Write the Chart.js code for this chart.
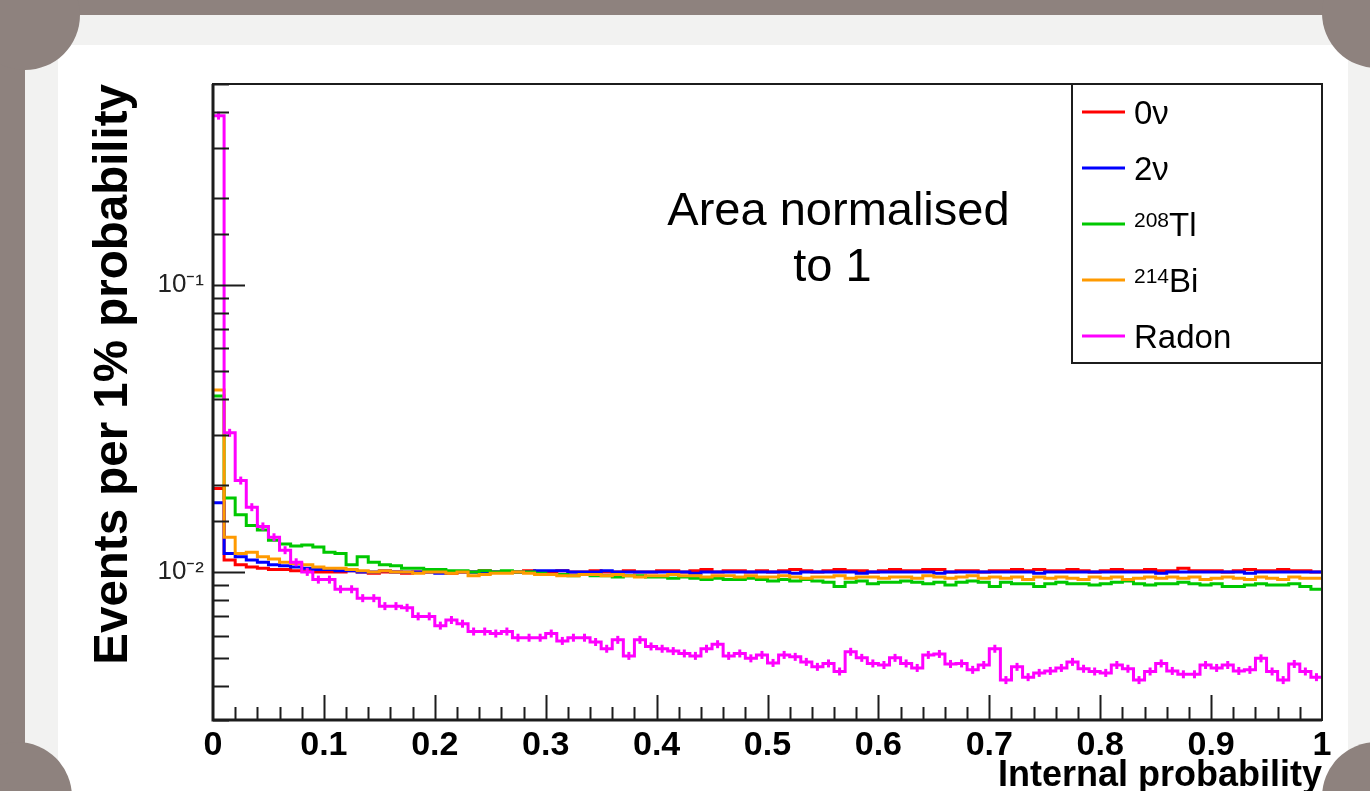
<!DOCTYPE html>
<html>
<head>
<meta charset="utf-8">
<script src="https://cdn.jsdelivr.net/npm/chart.js@4.4.1/dist/chart.umd.min.js"></script>
<style>
  html, body { margin: 0; padding: 0; overflow: hidden; background: #8e827e; }
  #card { position: absolute; left: 25px; top: 15px; width: 1360px; height: 800px; background: #f2f2f1; }
  #sheet { position: absolute; left: 58px; top: 45px; width: 1290px; height: 760px; background: #ffffff; }
  .corner { position: absolute; width: 110px; height: 110px; border-radius: 50%; background: #8e827e; }
  #histo { position: absolute; left: 0; top: 0; }
</style>
</head>
<body>
<div id="card"></div>
<div id="sheet"></div>
<div class="corner" style="left:-30px;top:-40px"></div>
<div class="corner" style="left:1322px;top:-42px"></div>
<div class="corner" style="left:-38px;top:742px"></div>
<div class="corner" style="left:1322px;top:742px"></div>
<canvas id="histo" width="1370" height="791"></canvas>
<script>
// bin lower edges, 100 bins of 1% internal probability
var binLow = [];
for (var i = 0; i < 100; i++) binLow.push(i / 100);

var seriesNames = ['0ν', '2ν', 'Tl', 'Bi', 'Radon'];
var seriesMass = ['', '', '208', '214', ''];
var seriesColors = ['#ff0000', '#0000ff', '#00c800', '#ff9a00', '#ff00ff'];

var zeroNu = [
  0.0195, 0.0110, 0.0106, 0.0104, 0.0103, 0.0102, 0.0102, 0.0101, 0.0101, 0.0100,
  0.0100, 0.0100, 0.0101, 0.0100, 0.0099, 0.0100, 0.0100, 0.0099, 0.0100, 0.0100,
  0.0100, 0.0099, 0.0100, 0.0100, 0.0101, 0.0100, 0.0100, 0.0100, 0.0101, 0.0100,
  0.0100, 0.0101, 0.0100, 0.0100, 0.0101, 0.0100, 0.0100, 0.0101, 0.0100, 0.0100,
  0.0101, 0.0101, 0.0100, 0.0101, 0.0102, 0.0100, 0.0101, 0.0101, 0.0100, 0.0101,
  0.0100, 0.0101, 0.0102, 0.0101, 0.0100, 0.0101, 0.0102, 0.0101, 0.0101, 0.0100,
  0.0101, 0.0102, 0.0101, 0.0101, 0.0102, 0.0102, 0.0100, 0.0101, 0.0101, 0.0100,
  0.0101, 0.0101, 0.0102, 0.0101, 0.0102, 0.0101, 0.0101, 0.0102, 0.0101, 0.0100,
  0.0101, 0.0102, 0.0101, 0.0101, 0.0102, 0.0101, 0.0101, 0.0103, 0.0101, 0.0101,
  0.0101, 0.0100, 0.0101, 0.0102, 0.0101, 0.0101, 0.0102, 0.0101, 0.0101, 0.0100
];
var twoNu = [
  0.0174, 0.0116, 0.0113, 0.0110, 0.0108, 0.0106, 0.0105, 0.0104, 0.0103, 0.0102,
  0.0102, 0.0101, 0.0101, 0.0100, 0.0100, 0.0101, 0.0100, 0.0100, 0.0100, 0.0100,
  0.0099, 0.0100, 0.0100, 0.0100, 0.0099, 0.0100, 0.0100, 0.0100, 0.0100, 0.0101,
  0.0101, 0.0101, 0.0100, 0.0100, 0.0100, 0.0101, 0.0100, 0.0100, 0.0100, 0.0100,
  0.0100, 0.0100, 0.0100, 0.0099, 0.0100, 0.0100, 0.0100, 0.0100, 0.0100, 0.0100,
  0.0100, 0.0100, 0.0099, 0.0100, 0.0100, 0.0100, 0.0100, 0.0100, 0.0099, 0.0100,
  0.0100, 0.0100, 0.0100, 0.0100, 0.0100, 0.0099, 0.0100, 0.0100, 0.0100, 0.0100,
  0.0100, 0.0100, 0.0100, 0.0100, 0.0099, 0.0100, 0.0100, 0.0100, 0.0100, 0.0100,
  0.0100, 0.0100, 0.0100, 0.0100, 0.0100, 0.0099, 0.0100, 0.0100, 0.0100, 0.0100,
  0.0100, 0.0100, 0.0100, 0.0099, 0.0100, 0.0100, 0.0100, 0.0100, 0.0100, 0.0100
];
var tl208 = [
  0.0410, 0.0181, 0.0158, 0.0145, 0.0140, 0.0129, 0.0125, 0.0123, 0.0124, 0.0122,
  0.0117, 0.0116, 0.0106, 0.0113, 0.0108, 0.0106, 0.0105, 0.0103, 0.0103, 0.0102,
  0.0102, 0.0101, 0.0101, 0.0100, 0.0101, 0.0100, 0.0101, 0.0100, 0.0100, 0.0099,
  0.0098, 0.0098, 0.0097, 0.0098, 0.0097, 0.0097, 0.0096, 0.0097, 0.0097, 0.0096,
  0.0096, 0.0095, 0.0096, 0.0095, 0.0094, 0.0095, 0.0094, 0.0094, 0.0095, 0.0094,
  0.0093, 0.0094, 0.0093, 0.0094, 0.0093, 0.0092, 0.0089, 0.0092, 0.0093, 0.0091,
  0.0092, 0.0092, 0.0093, 0.0092, 0.0091, 0.0092, 0.0090, 0.0092, 0.0093, 0.0092,
  0.0089, 0.0092, 0.0091, 0.0091, 0.0089, 0.0091, 0.0092, 0.0091, 0.0091, 0.0090,
  0.0091, 0.0092, 0.0093, 0.0091, 0.0090, 0.0091, 0.0091, 0.0092, 0.0091, 0.0090,
  0.0091, 0.0089, 0.0089, 0.0090, 0.0091, 0.0090, 0.0090, 0.0091, 0.0089, 0.0087
];
var bi214 = [
  0.0430, 0.0132, 0.0116, 0.0117, 0.0113, 0.0111, 0.0108, 0.0107, 0.0106, 0.0104,
  0.0103, 0.0103, 0.0102, 0.0101, 0.0100, 0.0101, 0.0100, 0.0100, 0.0099, 0.0100,
  0.0100, 0.0099, 0.0100, 0.0097, 0.0098, 0.0099, 0.0099, 0.0100, 0.0099, 0.0098,
  0.0098, 0.0097, 0.0097, 0.0098, 0.0098, 0.0097, 0.0098, 0.0097, 0.0096, 0.0097,
  0.0097, 0.0098, 0.0097, 0.0097, 0.0096, 0.0097, 0.0097, 0.0096, 0.0097, 0.0096,
  0.0096, 0.0097, 0.0096, 0.0095, 0.0096, 0.0096, 0.0097, 0.0095, 0.0096, 0.0096,
  0.0095, 0.0096, 0.0096, 0.0095, 0.0097, 0.0096, 0.0095, 0.0096, 0.0097, 0.0095,
  0.0096, 0.0095, 0.0096, 0.0094, 0.0096, 0.0095, 0.0096, 0.0095, 0.0094, 0.0096,
  0.0095, 0.0096, 0.0094, 0.0095, 0.0096, 0.0095, 0.0096, 0.0095, 0.0096, 0.0094,
  0.0095, 0.0096, 0.0095, 0.0094, 0.0096, 0.0095, 0.0094, 0.0096, 0.0095, 0.0095
];
var radon = [
  0.388, 0.0305, 0.0208, 0.0168, 0.0144, 0.0132, 0.0119, 0.0108, 0.0100, 0.0094,
  0.0094, 0.0087, 0.0087, 0.0081, 0.0081, 0.0076, 0.0076, 0.0075, 0.0070, 0.0070,
  0.0065, 0.0068, 0.0066, 0.0062, 0.0062, 0.0061, 0.0062, 0.0059, 0.0059, 0.0059,
  0.0061, 0.00575, 0.0059, 0.0059, 0.0057, 0.0054, 0.0058, 0.0051, 0.0058, 0.0055,
  0.0054, 0.0053, 0.0052, 0.0051, 0.0054, 0.0056, 0.0051, 0.0052, 0.0050, 0.00514,
  0.00482, 0.00514, 0.00506, 0.00486, 0.00467, 0.0048, 0.0045, 0.00527, 0.00502, 0.0048,
  0.00474, 0.00502, 0.0048, 0.00463, 0.00514, 0.00518, 0.00478, 0.0048, 0.00456, 0.00474,
  0.0054, 0.0042, 0.00467, 0.0043, 0.00445, 0.00452, 0.00463, 0.00486, 0.0046, 0.0045,
  0.00445, 0.00474, 0.0046, 0.0042, 0.0045, 0.0048, 0.00452, 0.0044, 0.0044, 0.00474,
  0.00463, 0.00474, 0.00452, 0.00456, 0.0050, 0.0045, 0.0042, 0.00478, 0.0045, 0.0043
];
var yTickLabels = { '0.1': '10\u207B\u00B9', '0.01': '10\u207B\u00B2' };

function histPoints(values) {
  var pts = values.map(function (v, i) { return { x: binLow[i], y: v }; });
  pts.push({ x: 1, y: values[values.length - 1] });
  return pts;
}

var allSeries = [zeroNu, twoNu, tl208, bi214, radon];
var datasets = allSeries.map(function (vals, i) {
  return {
    label: seriesNames[i],
    data: histPoints(vals),
    borderColor: seriesColors[i],
    borderWidth: 3,
    stepped: 'before',
    pointRadius: 0,
    fill: false,
    order: 10 - i
  };
});
// radon error bars at bin centres
datasets.push({
  label: 'Radon errors',
  type: 'scatter',
  data: radon.map(function (v, i) { return { x: binLow[i] + 0.005, y: v }; }),
  showLine: false,
  pointStyle: 'line',
  rotation: 90,
  pointRadius: 4,
  borderWidth: 3,
  borderColor: '#ff00ff',
  order: 0
});

var font = 'Liberation Sans, Arial, Helvetica, sans-serif';

var rootDecor = {
  id: 'rootDecor',
  afterDraw: function (chart) {
    var ctx = chart.ctx, a = chart.chartArea, x = chart.scales.x, y = chart.scales.y;
    ctx.save();
    ctx.strokeStyle = '#1c1c1c';
    ctx.lineWidth = 2;
    ctx.beginPath();
    y.ticks.forEach(function (t) {
      var lg = Math.log10(t.value);
      var major = Math.abs(lg - Math.round(lg)) < 1e-6;
      var py = Math.round(y.getPixelForValue(t.value)) + 0.5;
      ctx.moveTo(a.left, py);
      ctx.lineTo(a.left + (major ? 32 : 16), py);
    });
    for (var k = 1; k < 50; k++) {
      var px = Math.round(x.getPixelForValue(k / 50)) + 0.5;
      ctx.moveTo(px, a.bottom);
      ctx.lineTo(px, a.bottom - (k % 5 === 0 ? 25 : 13));
    }
    ctx.stroke();
    ctx.strokeRect(a.left, a.top, a.right - a.left, a.bottom - a.top);
    ctx.lineWidth = 3;
    ctx.beginPath();
    ctx.moveTo(a.left, a.top);
    ctx.lineTo(a.left, a.bottom);
    ctx.lineTo(a.right, a.bottom);
    ctx.stroke();

    // legend box
    var lw = 250, lh = 279;
    var lx = a.right - lw, ly = a.top;
    ctx.lineWidth = 2;
    ctx.fillStyle = '#ffffff';
    ctx.fillRect(lx, ly, lw, lh);
    ctx.strokeRect(lx, ly, lw, lh);
    for (var i = 0; i < seriesNames.length; i++) {
      var ry = ly + 28 + i * 56;
      ctx.strokeStyle = seriesColors[i];
      ctx.lineWidth = 3;
      ctx.beginPath();
      ctx.moveTo(lx + 10, ry);
      ctx.lineTo(lx + 53, ry);
      ctx.stroke();
      ctx.fillStyle = '#000';
      ctx.textBaseline = 'alphabetic';
      ctx.textAlign = 'left';
      var tx = lx + 62;
      if (seriesMass[i]) {
        ctx.font = '21px ' + font;
        ctx.fillText(seriesMass[i], tx, ry + 3);
        tx += ctx.measureText(seriesMass[i]).width;
      }
      ctx.font = '33px ' + font;
      ctx.fillText(seriesNames[i], tx, ry + 12);
    }

    // annotation
    ctx.fillStyle = '#000';
    ctx.font = '47px ' + font;
    ctx.textAlign = 'center';
    var cx = x.getPixelForValue(0.564);
    ctx.fillText('Area normalised', cx, a.top + 141);
    ctx.fillText('to 1', cx - 6, a.top + 197);
    ctx.restore();
  }
};

new Chart(document.getElementById('histo').getContext('2d'), {
  type: 'line',
  data: { datasets: datasets },
  options: {
    responsive: false,
    animation: false,
    events: [],
    layout: { padding: { left: 0, top: 84, right: 48, bottom: 0 } },
    plugins: { legend: { display: false }, tooltip: { enabled: false } },
    scales: {
      x: {
        type: 'linear',
        min: 0,
        max: 1,
        afterFit: function (s) { s.height = 71; },
        grid: { display: false, drawTicks: false },
        border: { display: false },
        ticks: {
          stepSize: 0.1,
          autoSkip: false,
          maxRotation: 0,
          padding: 5,
          color: '#000',
          font: { family: font, size: 34, weight: 'bold' },
          callback: function (v) { return String(Math.round(v * 10) / 10); }
        },
        title: {
          display: true,
          text: 'Internal probability',
          align: 'end',
          color: '#000',
          font: { family: font, size: 36, weight: 'bold', lineHeight: 1 },
          padding: { top: 0, bottom: -3 }
        }
      },
      y: {
        type: 'logarithmic',
        min: 0.00305,
        max: 0.5,
        afterFit: function (s) { s.width = 213; },
        grid: { display: false, drawTicks: false },
        border: { display: false },
        ticks: {
          autoSkip: false,
          padding: 9,
          color: '#222',
          font: { family: font, size: 26 },
          callback: function (v) { return yTickLabels[String(v)] || ''; }
        },
        title: {
          display: true,
          text: 'Events per 1% probability',
          align: 'end',
          color: '#000',
          font: { family: font, size: 47.5, weight: 'bold', lineHeight: 1 },
          padding: { top: 90, bottom: 0 }
        }
      }
    }
  },
  plugins: [rootDecor]
});
</script>
</body>
</html>
